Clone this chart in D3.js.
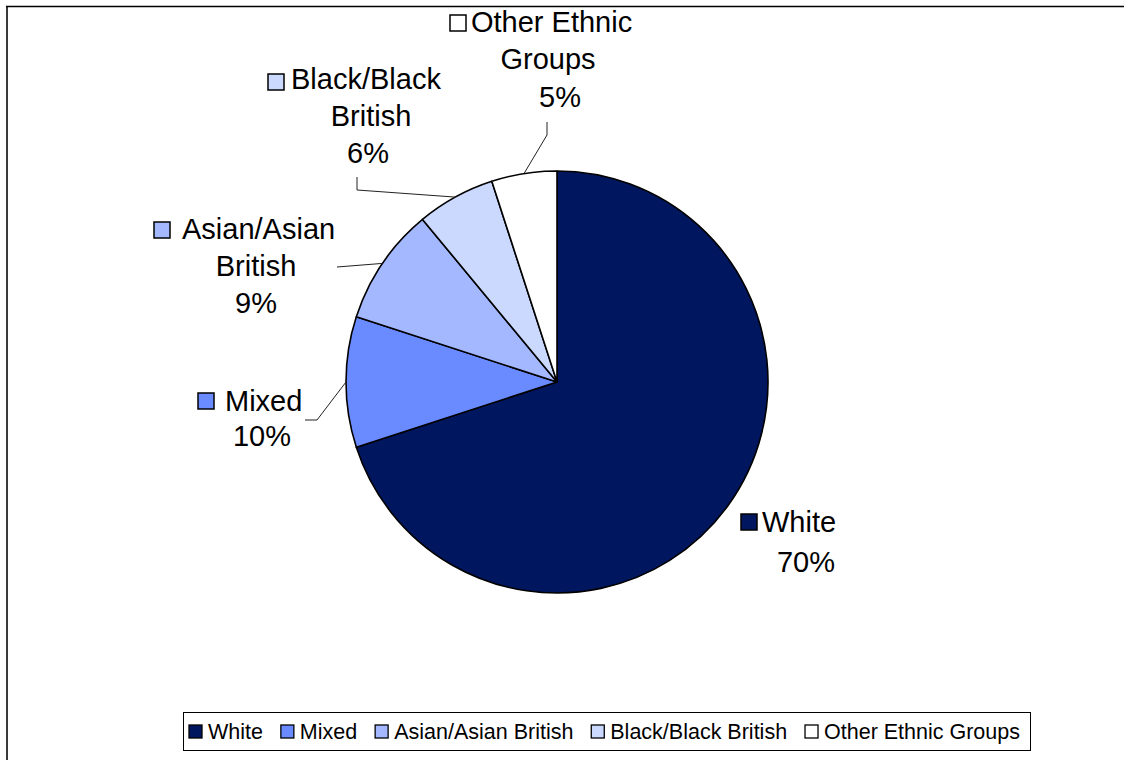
<!DOCTYPE html>
<html>
<head>
<meta charset="utf-8">
<script src="https://cdn.jsdelivr.net/npm/d3@7"></script>
<style>
  html, body { margin: 0; padding: 0; background: #fff; }
  svg { display: block; }
  text { font-family: "Liberation Sans", Arial, sans-serif; fill: #000; }
</style>
</head>
<body>
<svg id="chart" width="1124" height="760"></svg>
<script>
// Ethnic group shares (%)
const categories = ["White", "Mixed", "Asian/Asian British", "Black/Black British", "Other Ethnic Groups"];
const shares = [70, 10, 9, 6, 5];
const sliceColors = ["#001760", "#6a8bff", "#a4b8ff", "#ccd9ff", "#ffffff"];

// Data-label text lines (first line carries the colour key)
const labelLines = [
  ["White", "70%"],
  ["Mixed", "10%"],
  ["Asian/Asian", "British", "9%"],
  ["Black/Black", "British", "6%"],
  ["Other Ethnic", "Groups", "5%"]
];

const svg = d3.select("#chart");
const W = 1124, H = 760;

// chart area frame (right and bottom edges run off the canvas)
svg.append("line").attr("x1", 7).attr("x2", 7).attr("y1", 6).attr("y2", H)
  .attr("stroke", "#3a3a3a").attr("stroke-width", 2);
svg.append("line").attr("x1", 6).attr("x2", W).attr("y1", 6.5).attr("y2", 6.5)
  .attr("stroke", "#000").attr("stroke-width", 1.5);

const cx = 557, cy = 382, R = 211;
const color = d3.scaleOrdinal().domain(categories).range(sliceColors);

const data = categories.map((c, i) => ({ name: c, value: shares[i] }));
const pie = d3.pie().value(d => d.value).sort(null);
const arcs = pie(data);
const arc = d3.arc().innerRadius(0).outerRadius(R);

const g = svg.append("g").attr("transform", `translate(${cx},${cy})`);
g.selectAll("path.slice").data(arcs).join("path")
  .attr("class", "slice")
  .attr("d", arc)
  .attr("fill", d => color(d.data.name))
  .attr("stroke", "#000")
  .attr("stroke-width", 1.6)
  .attr("stroke-linejoin", "round");

// point on the rim at the middle of a slice
function rimPoint(d) {
  const a = (d.startAngle + d.endAngle) / 2;
  return [cx + R * Math.sin(a), cy - R * Math.cos(a)];
}

// label placement: key square position, and per-line centre x / baseline
const labelLayout = [
  { key: [741, 514], lines: [[801, 532, "start", 762], [806, 572]] },
  { key: [198, 393], lines: [[0, 411, "start", 225], [262, 446]] },
  { key: [154, 222], lines: [[0, 239, "start", 182], [256, 276], [256, 313]] },
  { key: [268, 74], lines: [[0, 89, "start", 291], [371, 126], [368, 163]] },
  { key: [450, 15], lines: [[0, 32, "start", 471], [548, 69], [560, 107]] }
];

// leader line bend points (from the label towards the rim)
const leaderBends = [
  null,
  [[305, 420], [317, 420]],
  [[337, 267]],
  [[357, 177], [357, 190]],
  [[547, 122], [547, 135]]
];

const fontSize = 29;
const labels = svg.append("g");
arcs.forEach((d, i) => {
  const lay = labelLayout[i];
  const lg = labels.append("g");
  lg.append("rect")
    .attr("x", lay.key[0]).attr("y", lay.key[1])
    .attr("width", 16).attr("height", 16)
    .attr("fill", color(d.data.name))
    .attr("stroke", "#000").attr("stroke-width", 1.5);
  labelLines[i].forEach((t, j) => {
    const L = lay.lines[j];
    const anchor = L[2] || "middle";
    const x = anchor === "start" ? L[3] : L[0];
    lg.append("text")
      .attr("x", x).attr("y", L[1])
      .attr("text-anchor", anchor)
      .attr("font-size", fontSize)
      .text(t);
  });
  if (leaderBends[i]) {
    const pts = leaderBends[i].concat([rimPoint(d)]);
    labels.append("path")
      .attr("d", d3.line()(pts))
      .attr("fill", "none")
      .attr("stroke", "#222")
      .attr("stroke-width", 1);
  }
});

// legend
const legBox = { x: 183, y: 712, w: 847, h: 38 };
const legend = svg.append("g");
legend.append("rect")
  .attr("x", legBox.x + 0.5).attr("y", legBox.y + 0.5)
  .attr("width", legBox.w).attr("height", legBox.h)
  .attr("fill", "#fff").attr("stroke", "#000").attr("stroke-width", 1);

const keyW = 13, keyGap = 6;
const keys = legend.selectAll("rect.key").data(categories).join("rect")
  .attr("class", "key")
  .attr("y", 725)
  .attr("width", keyW).attr("height", keyW)
  .attr("fill", d => color(d))
  .attr("stroke", "#000").attr("stroke-width", 1.3);
const names = legend.selectAll("text").data(categories).join("text")
  .attr("y", 739)
  .attr("font-size", 21.5)
  .text(d => d);

// spread the entries across the legend after measuring the text
const widths = names.nodes().map(n => n.getComputedTextLength());
const span = 831;
const total = d3.sum(widths) + categories.length * (keyW + keyGap);
const gap = (span - total) / (categories.length - 1);
let xPos = 189;
const starts = widths.map(w => { const s = xPos; xPos += keyW + keyGap + w + gap; return s; });
keys.attr("x", (d, i) => starts[i]);
names.attr("x", (d, i) => starts[i] + keyW + keyGap);
</script>
</body>
</html>
